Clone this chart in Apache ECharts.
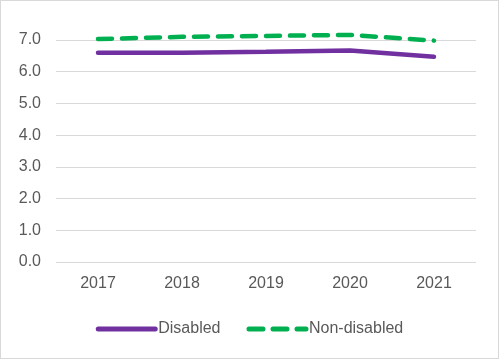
<!DOCTYPE html>
<html><head><meta charset="utf-8">
<script src="https://cdn.jsdelivr.net/npm/echarts@6/dist/echarts.min.js"></script>
<style>html,body{margin:0;padding:0;background:#fff}#c{width:499px;height:359px;box-sizing:border-box;border:1px solid #d9d9d9}</style>
</head><body><div id="c"></div>
<script>
const categories = ['2017','2018','2019','2020','2021'];
const disabled = [6.6, 6.6, 6.63, 6.67, 6.47];
const nonDisabled = [7.03, 7.1, 7.13, 7.16, 6.98];
const chart = echarts.init(document.getElementById('c'));
const font = 'Liberation Sans, Arial, sans-serif';
chart.setOption({
  animation:false,
  grid:{left:55,right:22,top:39,bottom:96,containLabel:false},
  xAxis:{type:'category',data:categories,boundaryGap:true,
    axisLine:{show:false},axisTick:{show:false},
    axisLabel:{color:'#595959',fontSize:16,fontFamily:font,margin:14}},
  yAxis:{type:'value',min:0,max:7,interval:1,
    axisLabel:{color:'#595959',fontSize:16,fontFamily:font,formatter:v=>v.toFixed(1),margin:15},
    splitLine:{lineStyle:{color:'#d9d9d9',width:1}},axisLine:{show:false},axisTick:{show:false}},
  legend:{bottom:16,left:'center',itemWidth:57,itemHeight:6,itemGap:26,
    itemStyle:{opacity:0},
    lineStyle:{width:5},
    textStyle:{color:'#595959',fontSize:16,fontFamily:font,padding:[0,0,0,-2]},
    data:['Disabled','Non-disabled']},
  series:[
    {name:'Disabled',type:'line',data:disabled,showSymbol:false,symbol:'none',clip:false,
      lineStyle:{color:'#7030A0',width:4.5,cap:'round'},itemStyle:{color:'#7030A0'}},
    {name:'Non-disabled',type:'line',data:nonDisabled,showSymbol:false,symbol:'none',clip:false,
      lineStyle:{color:'#00B050',width:4.5,type:[14,10],cap:'round'},itemStyle:{color:'#00B050'}}
  ]
});
</script></body></html>
